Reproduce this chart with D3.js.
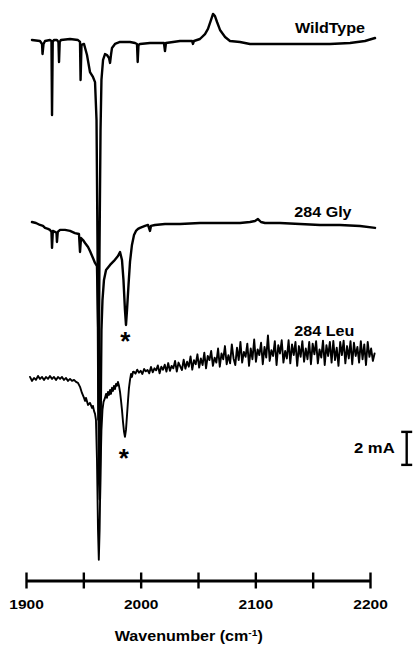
<!DOCTYPE html>
<html><head><meta charset="utf-8">
<script src="https://cdn.jsdelivr.net/npm/d3@7"></script>
<style>body{margin:0;background:#fff}svg{display:block}text{font-family:"Liberation Sans",Arial,sans-serif;font-weight:bold;fill:#000}</style>
</head><body>
<svg id="chart" width="415" height="651"></svg>
<script>
// ---- data (wavenumber in cm-1, absorbance change in mA) ----
const seriesNames = ["WildType", "284 Gly", "284 Leu"];
const seriesOffsets = [0, -11.15, -20.6];   // vertical stacking offsets, mA

const wildTypeWavenumber = [1905.2,1912.2,1914.0,1914.4,1915.3,1916.6,1920.9,1922.2,1922.7,1923.3,1924.4,1927.0,1928.3,1928.8,1929.4,1930.5,1938.4,1945.3,1947.1,1947.6,1948.4,1950.6,1953.2,1955.8,1958.4,1960.2,1961.5,1962.4,1963.2,1964.1,1965.0,1965.8,1967.2,1968.9,1970.6,1972.4,1973.3,1974.1,1975.0,1977.6,1982.0,1990.7,1995.1,1996.8,1997.4,1998.1,1999.4,2008.1,2020.3,2021.2,2022.1,2034.3,2044.8,2045.6,2046.5,2051.7,2056.1,2058.7,2061.3,2063.1,2064.8,2066.6,2069.2,2073.6,2077.9,2086.6,2095.3,2112.8,2139.0,2165.1,2182.6,2195.6,2204.4];
const wildTypeAbsorbance = [0,-0.06,-0.24,-0.85,-0.24,-0.06,0,-0.06,-4.55,-0.12,0,0,-0.12,-1.33,-0.12,0,0.06,0,-0.12,-2.42,-0.3,-0.24,-0.91,-1.94,-2.24,-2.55,-4.85,-12.7,-23.0,-12.7,-5.45,-2.42,-1.21,-0.85,-0.91,-1.09,-1.39,-0.91,-0.48,-0.24,-0.12,-0.12,-0.18,-0.24,-1.33,-0.3,-0.24,-0.18,-0.18,-0.67,-0.18,-0.06,-0.06,-0.24,-0.06,0.06,0.36,0.67,1.21,1.58,1.45,1.09,0.61,0.18,-0.06,-0.12,-0.24,-0.24,-0.24,-0.24,-0.18,-0.06,0.12];

const glyWavenumber = [1905.2,1908.7,1912.2,1914.8,1916.6,1919.2,1920.9,1922.2,1922.7,1923.4,1925.3,1926.6,1927.0,1927.7,1929.7,1934.0,1938.4,1942.7,1946.2,1947.1,1948.0,1949.7,1951.5,1954.1,1955.8,1958.4,1960.2,1961.9,1963.0,1963.7,1964.4,1965.1,1965.8,1966.7,1968.0,1969.8,1973.3,1976.7,1980.2,1982.0,1983.7,1985.0,1986.3,1987.2,1988.1,1989.4,1990.7,1992.4,1994.2,1995.9,1997.7,1999.4,2003.8,2006.4,2008.1,2009.0,2012.5,2021.2,2034.3,2051.7,2069.2,2086.6,2095.3,2099.7,2102.3,2104.9,2108.4,2121.5,2139.0,2156.4,2173.8,2191.3,2204.4];
const glyAbsorbance = [0.12,0.06,-0.06,-0.12,-0.24,-0.30,-0.36,-0.48,-1.45,-0.42,-0.48,-0.55,-1.09,-0.48,-0.36,-0.36,-0.42,-0.55,-0.61,-1.70,-0.85,-0.97,-1.15,-1.39,-1.64,-2.06,-2.36,-2.55,-6.42,-15.5,-16.7,-11.9,-6.42,-4.61,-3.39,-2.79,-2.48,-2.24,-1.94,-1.70,-2.18,-3.39,-5.21,-6.12,-5.21,-3.70,-2.30,-1.27,-0.67,-0.42,-0.30,-0.24,-0.12,-0.06,-0.42,-0.12,-0.06,0,0,0.06,0.06,0.06,0.12,0.18,0.30,0.12,0.06,0.06,0,-0.06,-0.06,-0.12,-0.24];

const leuWavenumber = [1903.5,1905.2,1907.0,1908.7,1910.5,1912.2,1914.0,1915.7,1917.4,1919.2,1920.9,1922.7,1924.4,1926.2,1927.9,1929.7,1931.4,1933.1,1934.9,1936.6,1938.4,1940.1,1941.9,1943.6,1945.3,1947.1,1948.8,1950.6,1951.5,1952.3,1954.1,1955.8,1957.6,1958.4,1959.3,1960.2,1961.0,1961.9,1962.8,1963.5,1964.2,1965.0,1965.8,1966.7,1967.6,1968.9,1969.8,1970.6,1971.5,1972.4,1973.3,1974.1,1975.0,1975.9,1976.7,1977.6,1978.5,1979.3,1980.2,1981.1,1982.0,1982.8,1983.7,1984.6,1985.5,1986.3,1987.2,1988.1,1989.0,1989.8,1990.7,1991.6,1992.4,1993.3];
const leuAbsorbance = [0.18,-0.06,0.12,0,0.24,0.06,0.18,0,0.18,0.06,0.24,0.06,0.18,0,0.18,0.06,0.18,0,0.12,-0.06,0.06,-0.06,0,-0.12,-0.18,-0.42,-0.79,-1.09,-1.27,-1.09,-1.52,-1.39,-1.70,-1.58,-1.88,-2.06,-2.42,-4.85,-9.09,-10.9,-9.09,-5.45,-3.03,-1.82,-1.33,-1.09,-0.85,-1.09,-0.73,-0.91,-0.61,-0.85,-0.48,-0.67,-0.36,-0.55,-0.24,-0.36,-0.12,-0.36,-0.73,-1.21,-1.82,-2.55,-3.15,-3.45,-3.03,-2.12,-1.21,-0.48,0,0.36,0.18,0.48];
// noisy high-wavenumber part of 284 Leu, sampled every 1.5 cm-1 from 1994 cm-1
const leuNoiseStart = 1994, leuNoiseStep = 1.5;
const leuNoiseAbsorbance = [
  0.50,0.38,0.62,0.44,0.55,0.36,0.66,0.52,0.60,0.40,
  0.78,0.46,0.70,0.58,0.88,0.40,0.80,0.62,0.92,0.50,
  1.02,0.55,0.85,0.70,1.15,0.50,1.05,0.82,0.60,1.22,
  0.68,1.10,0.80,1.42,0.62,1.20,0.95,1.55,0.75,1.30,
  0.90,1.65,0.70,1.45,1.20,1.75,0.85,1.35,1.05,1.90,
  0.80,1.60,1.25,2.05,0.95,1.50,1.00,2.15,1.30,0.90,
  1.95,1.20,2.30,1.05,1.70,1.40,2.20,0.85,1.90,1.25,
  2.45,1.10,1.85,1.50,2.25,0.95,2.00,1.35,2.70,1.15,
  1.80,1.45,2.35,0.90,2.10,1.60,2.40,1.05,1.75,1.30,
  2.40,1.00,2.15,1.50,2.30,0.85,2.05,1.40,2.35,1.10,
  1.90,1.25,2.30,0.95,2.20,1.55,2.35,1.00,1.85,1.35,
  2.38,0.90,2.10,1.45,2.30,1.05,2.36,1.20,1.95,0.85,
  2.30,1.50,2.38,1.00,2.05,1.30,2.35,0.95,2.25,1.45,
  2.00,1.05,2.35,1.25,2.15,0.90,2.30,1.40,1.90,1.15,
  1.60];

const tickValues = [1900, 1950, 2000, 2050, 2100, 2150, 2200];
const tickLabels = ["1900", "", "2000", "", "2100", "", "2200"];
const starWavenumbers = [1986.6, 1985.3];   // asterisks under 284 Gly and 284 Leu bands
const scaleBarValue = 2;                    // mA

// ---- scales ----
const svg = d3.select("#chart");
const x = d3.scaleLinear().domain([1900, 2200]).range([26, 370]);
const y = d3.scaleLinear().domain([2, -32]).range([7, 568]);
const SX = 1.15; // horizontal stretch of the printed lettering

function label(g, px, py, str, size, anchor) {
  return g.append("text")
    .attr("transform", `translate(${px},${py}) scale(${SX},1)`)
    .attr("text-anchor", anchor || "start")
    .style("font-size", size + "px")
    .text(str);
}

const leuNoiseWavenumber = leuNoiseAbsorbance.map((_, i) => leuNoiseStart + i * leuNoiseStep);
const series = [
  d3.zip(wildTypeWavenumber, wildTypeAbsorbance),
  d3.zip(glyWavenumber, glyAbsorbance),
  d3.zip(leuWavenumber.concat(leuNoiseWavenumber), leuAbsorbance.concat(leuNoiseAbsorbance))
];

const lineG = svg.append("g");
series.forEach((pts, i) => {
  const off = seriesOffsets[i];
  const line = d3.line().x(d => x(d[0])).y(d => y(d[1] + off));
  lineG.append("path").datum(pts)
    .attr("d", line)
    .attr("fill", "none")
    .attr("stroke", "#000")
    .attr("stroke-width", i === 2 ? 1.9 : 2.4)
    .attr("stroke-linejoin", "round")
    .attr("stroke-linecap", "round");
});

// series names
const nameWn = [2134.5, 2134, 2134];
const nameDy = [-10.5, -7.5, -17.5];
const nameBase = [wildTypeAbsorbance[wildTypeAbsorbance.length - 5], glyAbsorbance[glyAbsorbance.length - 4], 1.6];
seriesNames.forEach((n, i) => {
  label(svg, x(nameWn[i]), y(nameBase[i] + seriesOffsets[i]) + nameDy[i], n, 14);
});

// asterisks
const glyMin = d3.min(glyAbsorbance.slice(40)), leuMin = d3.min(leuAbsorbance.slice(55));
[[starWavenumbers[0], glyMin + seriesOffsets[1], 25], [starWavenumbers[1], leuMin + seriesOffsets[2], 30]].forEach(s => {
  svg.append("text").attr("x", x(s[0])).attr("y", y(s[1]) + s[2])
    .attr("text-anchor", "middle").style("font-size", "26px").text("*");
});

// scale bar (2 mA)
const barX = x(2232), barTop = -23.75;
const bar = svg.append("g").attr("stroke", "#000").attr("stroke-width", 2.4);
bar.append("line").attr("x1", barX).attr("x2", barX).attr("y1", y(barTop)).attr("y2", y(barTop - scaleBarValue));
[barTop, barTop - scaleBarValue].forEach(v => bar.append("line")
  .attr("x1", barX - 5.5).attr("x2", barX + 5.5).attr("y1", y(v)).attr("y2", y(v)));
label(svg, barX - 12, (y(barTop) + y(barTop - scaleBarValue)) / 2 + 5, scaleBarValue + " mA", 14.5, "end");

// x axis
const axisY = 580.5;
const axis = d3.axisBottom(x).tickValues(tickValues)
  .tickFormat((d, i) => tickLabels[i]).tickSizeInner(8).tickSizeOuter(0);
const ag = svg.append("g").attr("transform", `translate(0,${axisY})`).call(axis);
ag.select(".domain").attr("stroke", "#000").attr("stroke-width", 2.8);
ag.selectAll(".tick line").attr("y1", -8).attr("y2", 8).attr("stroke", "#000").attr("stroke-width", 2.4);
ag.selectAll(".tick text").attr("y", 0).attr("dy", null)
  .attr("transform", `translate(0,28) scale(${SX},1)`)
  .style("font-size", "13.5px").style("font-family", "'Liberation Sans',Arial,sans-serif")
  .style("font-weight", "bold").attr("fill", "#000");

// axis title
const title = svg.append("text")
  .attr("transform", `translate(${x(2042)},640.5) scale(${SX},1)`)
  .attr("text-anchor", "middle").style("font-size", "14px");
title.append("tspan").text("Wavenumber (cm");
title.append("tspan").attr("dy", -5).style("font-size", "9px").text("-1");
title.append("tspan").attr("dy", 5).text(")");
</script>
</body></html>
